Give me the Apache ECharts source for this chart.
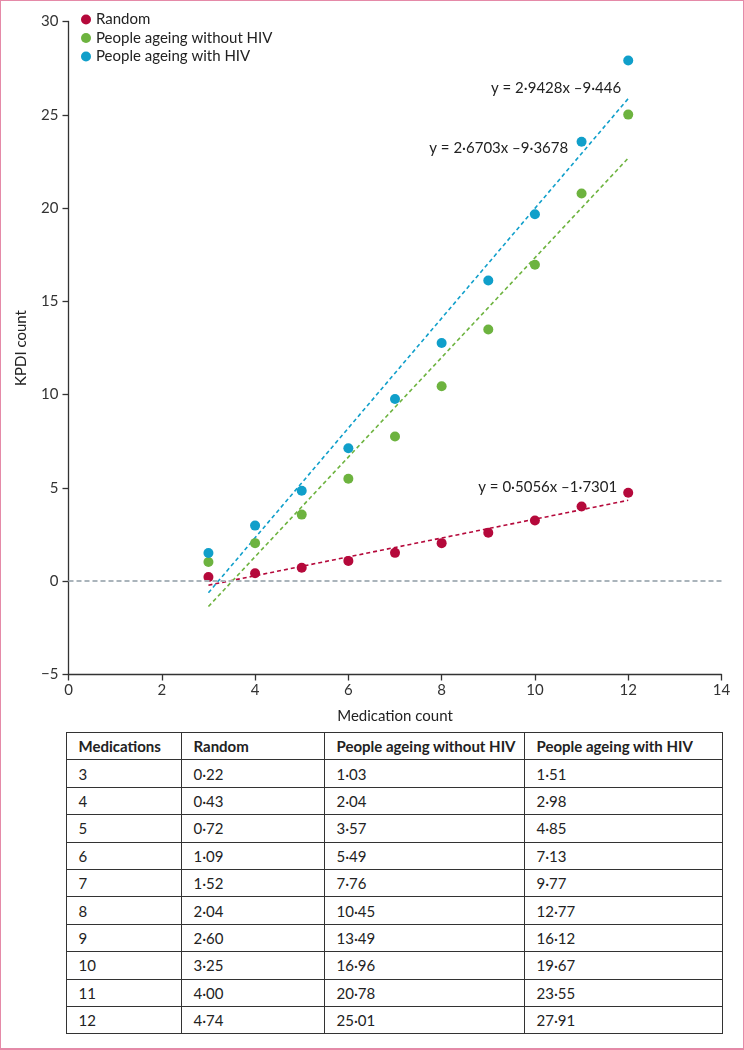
<!DOCTYPE html>
<html>
<head>
<meta charset="utf-8">
<script src="https://cdn.jsdelivr.net/npm/echarts@6/dist/echarts.min.js"></script>
<style>
  html, body { margin:0; padding:0; background:#fff; }
  #frame { position:relative; width:744px; height:1050px; box-sizing:border-box; border:1.5px solid #e58aa8; border-bottom-width:2px; overflow:hidden; font-family:Lato,"Open Sans",sans-serif; }
  #chart { position:absolute; left:-1.5px; top:-1.5px; width:744px; height:730px; }
  #tbl { position:absolute; left:64.5px; top:731px; border-collapse:collapse; font-size:15px; color:#222; }
  #tbl td, #tbl th { border:1.3px solid #333; height:26px; padding:0 0 0 12px; text-align:left; vertical-align:middle; box-sizing:border-box; }
  #tbl th { font-weight:bold; }
</style>
</head>
<body>
<div id="frame">
  <div id="chart"></div>
  <table id="tbl"></table>
</div>
<script>
const medications = [3, 4, 5, 6, 7, 8, 9, 10, 11, 12];
const randomVals = [0.22, 0.43, 0.72, 1.09, 1.52, 2.04, 2.60, 3.25, 4.00, 4.74];
const withoutHIV = [1.03, 2.04, 3.57, 5.49, 7.76, 10.45, 13.49, 16.96, 20.78, 25.01];
const withHIV = [1.51, 2.98, 4.85, 7.13, 9.77, 12.77, 16.12, 19.67, 23.55, 27.91];
const seriesNames = ['Random', 'People ageing without HIV', 'People ageing with HIV'];
const slopes = [0.5056, 2.6703, 2.9428];
const intercepts = [-1.7301, -9.3678, -9.446];
const tableHeaders = ['Medications', 'Random', 'People ageing without HIV', 'People ageing with HIV'];
const xTicks = [0, 2, 4, 6, 8, 10, 12, 14];
const yTicks = [-5, 0, 5, 10, 15, 20, 25, 30];

const colors = ['#b5093b', '#6db33f', '#109fca'];
const font = 'Lato,"Open Sans",sans-serif';
const dot = s => s.replace(/\./g, '\u00b7');
const fmt2 = v => dot(v.toFixed(2));
const eq = i => 'y = ' + dot(String(slopes[i])) + 'x \u2013' + dot(String(-intercepts[i]));
const labelOffsets = [[-11, -13], [-60, -10], [-7, -10]];

const values = [randomVals, withoutHIV, withHIV];
const xMin = medications[0], xMax = medications[medications.length - 1];

const series = [];
values.forEach((vals, i) => {
  series.push({
    name: seriesNames[i], type: 'scatter', symbolSize: 10,
    itemStyle: { color: colors[i], opacity: 1 }, z: 3,
    data: medications.map((m, k) => [m, vals[k]])
  });
});
values.forEach((vals, i) => {
  series.push({
    name: 'trend' + i, type: 'line', showSymbol: false, symbol: 'none', silent: true, z: 2,
    lineStyle: { color: colors[i], width: 1.6, type: [4, 3] },
    data: [
      [xMin, slopes[i] * xMin + intercepts[i]],
      [xMax, slopes[i] * xMax + intercepts[i]]
    ],
    endLabel: { show: true, formatter: eq(i), distance: 0, align: 'right', verticalAlign: 'middle',
                offset: labelOffsets[i], color: '#222', fontSize: 15, fontFamily: font },
    markLine: i === 0 ? {
      silent: true, symbol: 'none', label: { show: false },
      lineStyle: { color: '#aab4bb', width: 2, type: [5, 3], opacity: 1 },
      emphasis: { disabled: true },
      data: [{ yAxis: 0 }]
    } : undefined
  });
});

const chart = echarts.init(document.getElementById('chart'), null, { renderer: 'canvas' });
chart.setOption({
  animation: false,
  textStyle: { fontFamily: font },
  grid: { left: 68.5, right: 22.5, top: 21.5, bottom: 55.5 },
  legend: {
    data: seriesNames, orient: 'vertical', left: 76, top: 7,
    icon: 'circle', itemWidth: 10, itemHeight: 10, itemGap: 3.5,
    textStyle: { fontSize: 15, color: '#222', fontFamily: font }
  },
  xAxis: {
    type: 'value', min: xTicks[0], max: xTicks[xTicks.length - 1], interval: 2,
    name: 'Medication count', nameLocation: 'middle', nameGap: 34,
    nameTextStyle: { fontSize: 15, color: '#222', fontFamily: font },
    axisLine: { onZero: false, lineStyle: { color: '#333', width: 1.3 } },
    axisTick: { length: 6, lineStyle: { color: '#333', width: 1.3 } },
    axisLabel: { fontSize: 15, color: '#333', margin: 8 },
    splitLine: { show: false }
  },
  yAxis: {
    type: 'value', min: yTicks[0], max: yTicks[yTicks.length - 1], interval: 5,
    name: 'KPDI count', nameLocation: 'middle', nameGap: 40,
    nameTextStyle: { fontSize: 15, color: '#222', fontFamily: font },
    axisLine: { show: true, onZero: false, lineStyle: { color: '#333', width: 1.3 } },
    axisTick: { show: true, length: 6, lineStyle: { color: '#333', width: 1.3 } },
    axisLabel: { fontSize: 15, color: '#333', margin: 10, formatter: v => v < 0 ? '\u2212' + Math.abs(v) : String(v) },
    splitLine: { show: false }
  },
  series: series
});

// table
const tbl = document.getElementById('tbl');
const colWidths = [115, 143, 200, 198];
let html = '<tr>' + tableHeaders.map((h, j) => '<th style="width:' + colWidths[j] + 'px">' + h + '</th>').join('') + '</tr>';
medications.forEach((m, k) => {
  html += '<tr><td>' + m + '</td><td>' + fmt2(randomVals[k]) + '</td><td>' + fmt2(withoutHIV[k]) + '</td><td>' + fmt2(withHIV[k]) + '</td></tr>';
});
tbl.innerHTML = html;
Array.from(tbl.rows).forEach(r => r.style.height = '27.4px');
</script>
</body>
</html>
